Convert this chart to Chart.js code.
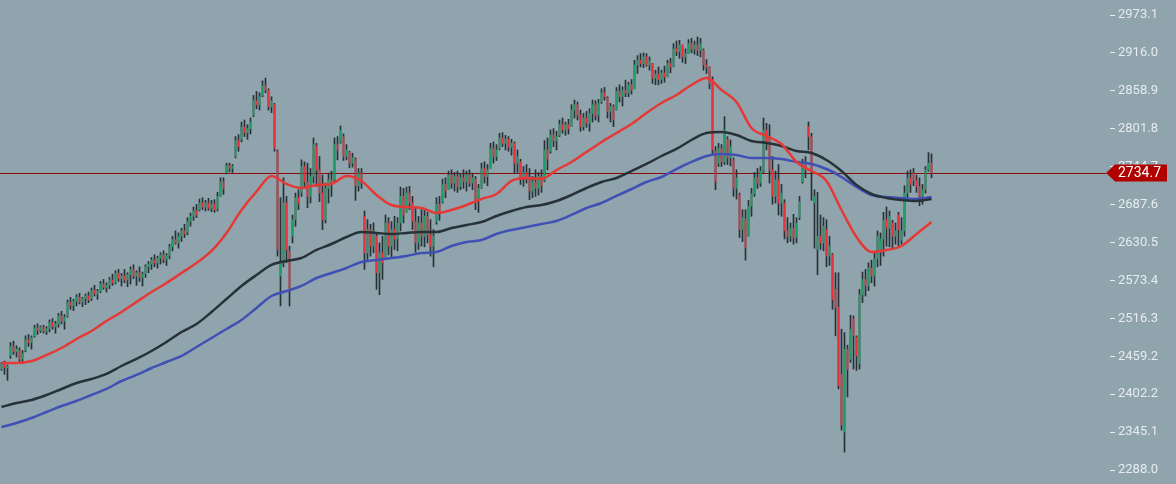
<!DOCTYPE html>
<html><head><meta charset="utf-8">
<script src="https://cdn.jsdelivr.net/npm/chart.js@4.4.1/dist/chart.umd.min.js"></script>
<style>html,body{margin:0;padding:0;background:#90a4ae;overflow:hidden}#wrap{width:1176px;height:484px}</style>
</head><body><div id="wrap"><canvas id="c" width="1176" height="484"></canvas></div>
<script>
const opens=[2440,2447,2442,2460,2474,2466,2468,2455,2468,2484,
2480,2490,2502,2498,2503,2497,2501,2510,2504,2508,
2520,2512,2520,2540,2536,2542,2548,2541,2546,2550,
2546,2558,2553,2557,2568,2563,2566,2574,2570,2584,
2576,2580,2574,2582,2590,2580,2585,2578,2583,2594,
2598,2604,2600,2607,2612,2605,2611,2624,2635,2630,
2640,2648,2646,2662,2670,2678,2680,2690,2684,2690,
2682,2688,2681,2700,2722,2736,2746,2742,2760,2784,
2786,2804,2796,2802,2822,2844,2838,2852,2866,2860,
2835,2838,2768,2580,2600,2690,2618,2640,2665,2698,
2706,2745,2722,2700,2730,2776,2740,2705,2665,2712,
2725,2725,2778,2782,2790,2760,2766,2750,2756,2716,
2735,2670,2615,2650,2625,2640,2585,2615,2605,2660,
2625,2650,2636,2660,2700,2676,2705,2690,2662,2630,
2660,2640,2670,2642,2625,2662,2688,2692,2718,2710,
2732,2720,2730,2715,2728,2722,2732,2720,2726,2695,
2712,2742,2730,2742,2772,2760,2772,2788,2780,2786,
2774,2780,2750,2752,2728,2736,2726,2708,2722,2712,
2730,2724,2770,2768,2792,2784,2792,2808,2800,2808,
2805,2830,2838,2822,2805,2818,2810,2825,2838,2822,
2842,2856,2848,2828,2835,2830,2858,2850,2860,2856,
2868,2862,2898,2905,2900,2910,2898,2900,2878,2884,
2876,2886,2880,2900,2895,2922,2918,2928,2910,2915,
2930,2922,2928,2920,2920,2898,2895,2876,2768,2750,
2772,2752,2786,2758,2755,2712,2702,2650,2666,2640,
2685,2704,2728,2720,2738,2800,2790,2740,2700,2725,
2690,2690,2648,2640,2652,2638,2668,2722,2750,2805,
2790,2690,2620,2640,2630,2650,2610,2612,2560,2533,
2432,2345,2470,2455,2516,2488,2448,2552,2575,2565,
2592,2580,2606,2620,2636,2665,2652,2660,2640,2672,
2634,2648,2705,2728,2735,2724,2715,2700,2710,2740,2750];
const highs=[2450,2452,2446,2480,2482,2475,2472,2468,2490,2492,
2490,2506,2508,2505,2506,2504,2514,2516,2512,2524,
2527,2522,2544,2548,2545,2552,2554,2548,2553,2556,
2562,2566,2560,2572,2575,2570,2578,2583,2588,2590,
2584,2590,2585,2594,2597,2588,2594,2586,2597,2602,
2608,2612,2610,2615,2618,2614,2628,2640,2648,2645,
2652,2658,2668,2675,2684,2688,2696,2698,2694,2697,
2694,2695,2706,2728,2728,2750,2750,2748,2790,2793,
2812,2815,2808,2818,2852,2858,2856,2874,2878,2862,
2850,2840,2770,2698,2728,2700,2625,2672,2705,2710,
2755,2752,2750,2742,2788,2780,2760,2732,2720,2735,
2738,2788,2790,2806,2794,2778,2768,2765,2758,2742,
2742,2678,2665,2658,2660,2645,2630,2640,2672,2668,
2662,2670,2668,2714,2712,2714,2715,2700,2682,2670,
2680,2680,2676,2665,2650,2698,2700,2726,2728,2738,
2740,2736,2738,2734,2740,2738,2740,2735,2730,2718,
2750,2752,2748,2780,2782,2778,2795,2796,2792,2790,
2786,2782,2770,2756,2745,2748,2742,2730,2740,2736,
2740,2784,2788,2800,2802,2798,2815,2818,2812,2816,
2838,2845,2842,2830,2825,2828,2832,2845,2844,2846,
2862,2864,2850,2840,2838,2864,2868,2865,2875,2872,
2876,2905,2912,2915,2916,2915,2910,2900,2890,2895,
2890,2896,2905,2908,2930,2934,2935,2928,2922,2936,
2938,2934,2940,2938,2922,2906,2895,2880,2775,2780,
2778,2820,2790,2785,2758,2740,2705,2680,2680,2694,
2712,2736,2742,2745,2818,2810,2808,2760,2738,2748,
2718,2695,2668,2660,2673,2668,2700,2756,2760,2812,
2795,2710,2706,2672,2668,2665,2640,2614,2585,2585,
2500,2495,2476,2521,2520,2490,2560,2586,2590,2600,
2604,2616,2648,2645,2676,2684,2678,2664,2660,2676,
2668,2716,2738,2740,2742,2732,2728,2718,2745,2766,2764];
const lows=[2438,2432,2423,2456,2462,2458,2450,2448,2466,2474,
2470,2488,2492,2495,2494,2492,2496,2500,2494,2503,
2508,2500,2518,2530,2528,2535,2538,2534,2537,2540,
2543,2550,2545,2555,2560,2556,2561,2566,2568,2572,
2565,2570,2564,2568,2576,2566,2572,2565,2578,2585,
2590,2594,2592,2598,2600,2596,2606,2618,2628,2622,
2632,2638,2642,2655,2664,2668,2678,2680,2678,2679,
2677,2676,2678,2700,2703,2734,2737,2736,2758,2768,
2782,2790,2786,2794,2820,2832,2830,2850,2856,2830,
2826,2768,2610,2535,2594,2600,2535,2630,2655,2680,
2700,2712,2683,2690,2720,2715,2692,2650,2660,2690,
2700,2722,2755,2780,2754,2755,2743,2744,2694,2708,
2712,2590,2605,2610,2615,2560,2552,2575,2605,2612,
2608,2620,2618,2648,2660,2676,2680,2650,2616,2620,
2625,2624,2630,2610,2594,2658,2664,2690,2698,2710,
2712,2708,2706,2710,2712,2708,2715,2710,2680,2676,
2712,2720,2716,2742,2750,2754,2770,2775,2770,2768,
2762,2735,2736,2718,2715,2720,2695,2698,2700,2702,
2706,2722,2740,2765,2775,2770,2790,2795,2792,2794,
2805,2818,2815,2798,2800,2804,2798,2812,2815,2812,
2840,2845,2818,2812,2805,2830,2842,2836,2850,2850,
2854,2862,2885,2895,2894,2896,2890,2870,2868,2868,
2870,2872,2880,2886,2895,2912,2908,2902,2900,2915,
2916,2914,2912,2910,2890,2885,2862,2763,2710,2745,
2745,2748,2748,2746,2700,2696,2638,2632,2604,2640,
2670,2700,2712,2715,2736,2770,2720,2688,2690,2672,
2670,2636,2630,2632,2628,2630,2665,2720,2728,2770,
2694,2622,2582,2620,2618,2594,2596,2530,2490,2410,
2348,2315,2398,2450,2440,2438,2440,2540,2550,2558,
2570,2565,2594,2596,2610,2625,2624,2622,2628,2626,
2628,2640,2694,2706,2716,2706,2686,2688,2705,2738,2728];
const closes=[2447,2442,2444,2474,2466,2470,2455,2463,2484,2480,
2487,2502,2498,2503,2497,2501,2510,2504,2508,2520,
2512,2518,2540,2536,2542,2548,2541,2546,2550,2544,
2558,2553,2557,2568,2563,2566,2574,2570,2584,2576,
2580,2574,2582,2590,2580,2585,2578,2583,2594,2598,
2604,2600,2607,2612,2605,2611,2624,2635,2630,2640,
2648,2644,2662,2670,2678,2672,2690,2684,2690,2682,
2688,2680,2700,2722,2712,2746,2742,2745,2784,2775,
2804,2796,2802,2812,2844,2838,2850,2866,2860,2835,
2844,2772,2620,2600,2690,2620,2560,2665,2698,2690,
2745,2722,2700,2730,2778,2740,2705,2665,2712,2725,
2718,2778,2770,2800,2760,2770,2750,2758,2716,2735,
2720,2615,2650,2625,2648,2585,2615,2600,2660,2625,
2650,2636,2660,2700,2672,2705,2690,2662,2630,2660,
2640,2670,2642,2625,2640,2688,2676,2718,2708,2732,
2720,2730,2715,2728,2722,2732,2720,2728,2695,2712,
2742,2730,2740,2772,2760,2770,2788,2780,2786,2774,
2780,2750,2760,2728,2736,2726,2708,2722,2712,2730,
2716,2770,2756,2792,2784,2790,2808,2800,2808,2802,
2830,2838,2822,2805,2818,2810,2825,2838,2822,2840,
2856,2850,2828,2835,2815,2858,2850,2860,2856,2868,
2860,2898,2905,2900,2910,2898,2904,2878,2884,2876,
2886,2880,2900,2895,2922,2918,2928,2910,2915,2930,
2922,2928,2920,2930,2898,2895,2870,2770,2722,2772,
2752,2800,2758,2775,2712,2728,2650,2668,2622,2685,
2704,2728,2720,2738,2800,2782,2740,2700,2725,2690,
2705,2648,2640,2652,2638,2660,2692,2750,2740,2790,
2740,2700,2640,2630,2655,2610,2625,2545,2533,2415,
2356,2470,2440,2500,2490,2460,2552,2575,2565,2592,
2580,2606,2640,2636,2664,2652,2670,2640,2648,2650,
2648,2705,2728,2718,2724,2715,2695,2710,2740,2750,2734.7];

const maIndex=[0,5,10,15,20,25,30,35,40,45,50,55,60,65,70,75,80,85,90,95,
100,105,110,115,120,125,130,135,140,145,150,155,160,165,170,175,180,185,190,195,
200,205,210,215,220,225,230,235,240,245,250,255,260,265,270,275,280,285,290,295,
300,305,310];
const maFast=[2449.1,2449.0,2452.1,2461.2,2471.7,2485.3,2497.3,2512.4,2525.9,2541.0,
2556.0,2569.6,2584.6,2599.7,2617.8,2644.9,2679.5,2707.4,2730.7,2718.7,
2712.6,2717.1,2718.7,2730.7,2723.2,2702.1,2687.0,2684.0,2682.5,2675.0,
2679.5,2687.0,2696.1,2703.6,2723.2,2727.7,2726.2,2739.7,2751.8,2766.8,
2781.9,2795.4,2809.0,2825.6,2840.6,2852.7,2867.7,2878.3,2860.2,2842.1,
2803.0,2790.9,2778.9,2751.8,2738.2,2723.2,2679.5,2638.8,2616.3,2619.3,
2625.3,2643.4,2661.4];
const maMid=[2382.9,2388.9,2393.4,2400.9,2410.0,2419.0,2425.0,2432.6,2444.6,2455.2,
2467.2,2480.8,2495.8,2507.8,2525.9,2545.5,2565.1,2581.6,2596.7,2602.7,
2607.2,2619.3,2628.3,2638.8,2646.4,2644.9,2643.4,2644.9,2646.4,2646.4,
2652.4,2656.9,2661.4,2670.5,2678.0,2684.0,2687.0,2693.1,2702.1,2712.6,
2721.7,2727.7,2738.2,2748.8,2760.8,2771.4,2784.9,2795.4,2796.9,2792.4,
2783.4,2780.4,2775.9,2768.3,2765.3,2754.8,2738.2,2717.1,2703.6,2697.6,
2694.6,2693.1,2696.1];
const maSlow=[2352.8,2358.8,2366.3,2375.3,2384.4,2391.9,2400.9,2410.0,2422.0,2431.1,
2441.6,2450.6,2459.7,2473.2,2486.8,2500.3,2513.9,2532.0,2550.0,2557.5,
2565.1,2577.1,2584.7,2592.2,2601.2,2604.2,2607.2,2610.2,2614.8,2616.3,
2625.3,2631.3,2634.3,2643.4,2649.4,2653.9,2658.4,2662.9,2672.0,2682.5,
2690.0,2700.6,2711.1,2721.7,2729.2,2741.2,2751.8,2760.8,2763.8,2762.3,
2757.8,2757.8,2756.3,2751.8,2748.8,2741.2,2729.2,2714.1,2702.1,2699.1,
2697.6,2696.1,2699.1];
const tickValues=[2288.0,2345.1,2402.2,2459.2,2516.3,2573.4,2630.5,2687.6,2744.7,2801.8,2858.9,2916.0,2973.1];
const lastPrice=2734.7;

const UP='#1f9d63', DOWN='#e8323a', WICK='#263035';
const TXT='#e6ecef';

const priceTag={
  id:'priceTag',
  beforeDatasetsDraw(chart){
    const {ctx,chartArea,scales:{y}}=chart;
    const py=Math.round(y.getPixelForValue(lastPrice))+0.5;
    ctx.save();
    ctx.strokeStyle='#8e0a0a';ctx.lineWidth=1;
    ctx.beginPath();ctx.moveTo(chartArea.left,py);ctx.lineTo(chartArea.right-4,py);ctx.stroke();
    ctx.restore();
  },
  afterDraw(chart){
    const {ctx,chartArea,scales:{y}}=chart;
    const py=Math.round(y.getPixelForValue(lastPrice));
    const r=chartArea.right;
    ctx.save();
    ctx.fillStyle='#b10000';
    ctx.beginPath();
    ctx.moveTo(r-4,py);
    ctx.lineTo(r+5,py-8.5);
    ctx.lineTo(r+57,py-8.5);
    ctx.lineTo(r+57,py+8.5);
    ctx.lineTo(r+5,py+8.5);
    ctx.closePath();ctx.fill();
    ctx.fillStyle='#ffffff';
    ctx.font='14px Roboto';
    ctx.textBaseline='middle';ctx.textAlign='left';
    ctx.fillText(lastPrice.toFixed(1),r+8,py+0.5);
    ctx.restore();
  }
};

new Chart(document.getElementById('c'),{
  type:'bar',
  data:{datasets:[
    {type:'line',label:'fast',data:maIndex.map((i,k)=>({x:i,y:maFast[k]})),borderColor:'#e53935',borderWidth:2.5,pointRadius:0,cubicInterpolationMode:'monotone',order:0},
    {type:'line',label:'mid',data:maIndex.map((i,k)=>({x:i,y:maMid[k]})),borderColor:'#263238',borderWidth:2.5,pointRadius:0,cubicInterpolationMode:'monotone',order:0},
    {type:'line',label:'slow',data:maIndex.map((i,k)=>({x:i,y:maSlow[k]})),borderColor:'#3f51b5',borderWidth:2.5,pointRadius:0,cubicInterpolationMode:'monotone',order:0},
    {label:'body',data:opens.map((o,i)=>({x:i,y:[o,closes[i]]})),backgroundColor:opens.map((o,i)=>closes[i]>=o?UP:DOWN),barThickness:1,grouped:false,borderWidth:0,order:1},
    {label:'wick',data:highs.map((h,i)=>({x:i,y:[lows[i],h]})),backgroundColor:WICK,barThickness:1,grouped:false,borderWidth:0,order:2}
  ]},
  options:{
    responsive:false,animation:false,devicePixelRatio:1,
    layout:{padding:0},
    plugins:{legend:{display:false},tooltip:{enabled:false},title:{display:false}},
    scales:{
      x:{type:'linear',min:-0.5,max:369.5,display:false,offset:false,grid:{offset:false}},
      y:{position:'right',min:2266.92,max:2995.69,beginAtZero:false,
        afterBuildTicks:s=>{s.ticks=tickValues.map(v=>({value:v}));},
        afterFit:s=>{s.width=66;s.paddingTop=0;s.paddingBottom=0;},
        ticks:{callback:v=>Number(v).toFixed(1),color:TXT,font:{family:'Roboto',size:13},padding:3,autoSkip:false},
        grid:{drawOnChartArea:false,drawTicks:true,tickLength:5,tickColor:TXT,tickWidth:1},
        border:{display:false}}
    }
  },
  plugins:[priceTag]
});
</script></body></html>
